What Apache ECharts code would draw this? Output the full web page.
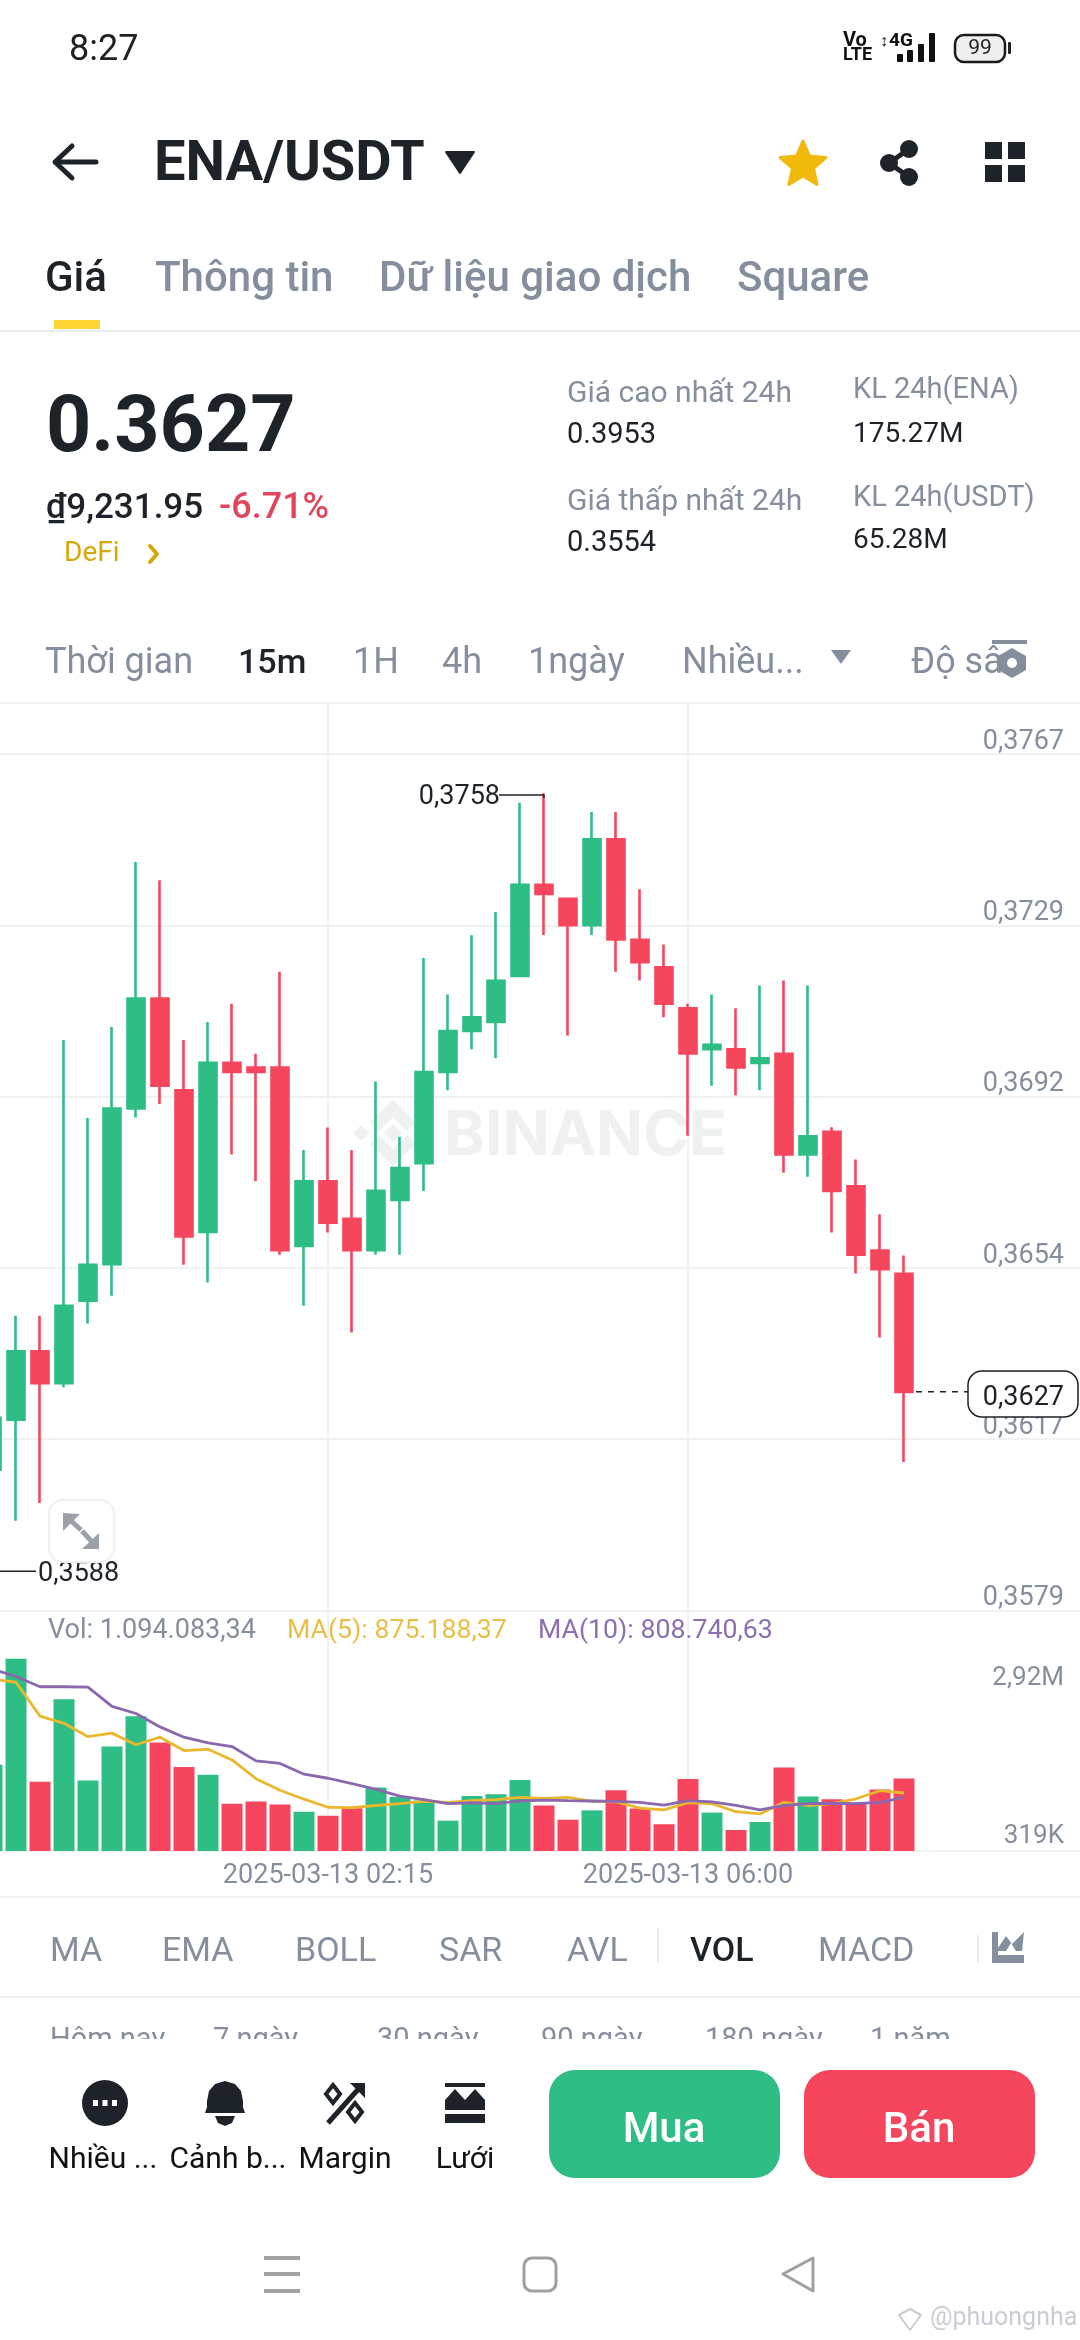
<!DOCTYPE html>
<html>
<head>
<meta charset="utf-8">
<style>html,body{margin:0;padding:0;background:#fff}#c{width:1080px;height:2340px}</style>
<script src="https://cdn.jsdelivr.net/npm/echarts@6/dist/echarts.min.js"></script>
</head>
<body>
<div id="c"></div>
<script>
const times = ['2025-03-12 22:45','2025-03-12 23:00','2025-03-12 23:15','2025-03-12 23:30','2025-03-12 23:45','2025-03-13 00:00','2025-03-13 00:15','2025-03-13 00:30','2025-03-13 00:45','2025-03-13 01:00','2025-03-13 01:15','2025-03-13 01:30','2025-03-13 01:45','2025-03-13 02:00','2025-03-13 02:15','2025-03-13 02:30','2025-03-13 02:45','2025-03-13 03:00','2025-03-13 03:15','2025-03-13 03:30','2025-03-13 03:45','2025-03-13 04:00','2025-03-13 04:15','2025-03-13 04:30','2025-03-13 04:45','2025-03-13 05:00','2025-03-13 05:15','2025-03-13 05:30','2025-03-13 05:45','2025-03-13 06:00','2025-03-13 06:15','2025-03-13 06:30','2025-03-13 06:45','2025-03-13 07:00','2025-03-13 07:15','2025-03-13 07:30','2025-03-13 07:45','2025-03-13 08:00','2025-03-13 08:15','2025-03-13 08:30','2025-03-13 08:45','2025-03-13 09:00','2025-03-13 09:15','2025-03-13 09:30','2025-03-13 09:45','2025-03-13 10:00'];
const opens  = [.36099,.36209,.36359,.36289,.3647,.3655,.36892,.37133,.36932,.36621,.36992,.36982,.36982,.3659,.36732,.3665,.36581,.36691,.36772,.36972,.37062,.37082,.37183,.37383,.37352,.37294,.37483,.37262,.37202,.37112,.37022,.37022,.36992,.37012,.36791,.36841,.36721,.3658,.36529];
const closes = [.36213,.36359,.36289,.36459,.36549,.36892,.37133,.36942,.36611,.36992,.36972,.36972,.36581,.36732,.36641,.36581,.36711,.36761,.36972,.37062,.37092,.37172,.37383,.37363,.37294,.37483,.37263,.37213,.37122,.37013,.37032,.36982,.37002,.36791,.36831,.36711,.36571,.36539,.3627];
const lows   = [.35992,.35987,.36026,.3628,.3642,.36481,.36872,.36902,.36549,.3651,.36791,.36732,.36571,.36459,.3662,.364,.36571,.36571,.36711,.36932,.37022,.37002,.37183,.37273,.37052,.37273,.37192,.37173,.37092,.36832,.36942,.36921,.36932,.36751,.36742,.3662,.3653,.36389,.36116];
const highs  = [.36439,.36437,.36437,.37042,.36871,.37071,.37433,.37393,.37042,.37082,.37122,.37012,.37192,.36801,.3685,.36801,.36951,.3683,.37222,.37142,.37272,.37323,.37563,.37584,.37352,.37543,.37543,.37373,.37252,.37122,.37142,.37112,.37162,.37173,.37162,.36851,.3678,.3666,.36569];
const volumes = [1300000,2900000,1044000,2291000,1065000,1577000,2035000,1637000,1267000,1152000,714000,748000,701000,593000,532000,647000,957000,815000,761000,458000,829000,856000,1071000,687000,472000,613000,916000,640000,404000,1085000,579000,317000,438000,1260000,822000,781000,728000,930000,1094083];
const ma5 = [2594000,2547000,2035000,1927000,1725000,1779000,1604000,1718000,1516000,1536000,1374000,1091000,916000,782000,660000,654000,687000,714000,748000,734000,761000,775000,809000,795000,809000,748000,741000,647000,620000,728000,714000,593000,559000,734000,687000,714000,788000,910000,875188];
const ma10 = [2749000,2634000,2479000,2479000,2473000,2183000,2075000,1873000,1718000,1631000,1577000,1361000,1321000,1159000,1098000,1017000,930000,829000,775000,714000,728000,714000,755000,768000,761000,755000,748000,734000,694000,761000,741000,687000,620000,687000,714000,721000,714000,734000,808740];
const priceTicks = [.3579,.36166,.36542,.36918,.37294,.3767];
const volTicks = [319000,2920000];
const timeLabelIdx = [14,29];
const highValue = 0.3758, lowValue = 0.35876, lastValue = 0.3627;

const UP='#2EBD85', DOWN='#F6465D', GRID='#F0F1F3', GREY='#848E9C', DARK='#1E2329';
const FONT='Roboto';
const chart = echarts.init(document.getElementById('c'), null, {width:1080,height:2340});
const vLines = timeLabelIdx.map(i=>({xAxis:i}));
const vMark = {silent:true,symbol:'none',z:1,label:{show:false},lineStyle:{color:GRID,width:2,type:'solid'},data:vLines,animation:false};

chart.setOption({
  animation:false,
  backgroundColor:'#fff',
  grid:[
    {left:-20,top:703,width:1104,height:907.5,outerBoundsMode:'none'},
    {left:-20,top:1610.5,width:1104,height:240.5,outerBoundsMode:'none'}
  ],
  xAxis:[
    {type:'category',gridIndex:0,data:times,axisLine:{show:false},axisTick:{show:false},axisLabel:{show:false},splitLine:{show:false}},
    {type:'category',gridIndex:1,data:times,axisLine:{show:true,lineStyle:{color:GRID,width:2}},axisTick:{show:false},splitLine:{show:false},
     axisLabel:{show:true,interval:(i)=>timeLabelIdx.includes(i),margin:12,color:GREY,fontFamily:FONT,fontSize:27,hideOverlap:false}}
  ],
  yAxis:[
    {type:'value',gridIndex:0,position:'right',min:0.3579,max:0.37782,scale:true,
     axisLine:{show:false},axisTick:{show:false,customValues:priceTicks},
     splitLine:{show:true,lineStyle:{color:GRID,width:2}},
     axisLabel:{inside:true,margin:20,customValues:priceTicks,verticalAlign:'bottom',padding:[0,0,-1.5,0],showMinLabel:true,showMaxLabel:true,color:GREY,fontFamily:FONT,fontSize:27,
       formatter:v=>v.toFixed(4).replace('.',',')}},
    {type:'value',gridIndex:1,position:'right',min:0,max:3630000,
     axisLine:{show:false},axisTick:{show:false,customValues:volTicks},splitLine:{show:false},
     axisLabel:{inside:true,margin:20,customValues:volTicks,verticalAlign:'middle',color:GREY,fontFamily:FONT,fontSize:26,
       formatter:v=>v>=1e6?'{a|'+(v/1e6).toFixed(2).replace('.',',')+'M}':'{b|'+Math.round(v/1000)+'K}',
       rich:{a:{padding:[42,0,0,0],fontFamily:FONT,fontSize:26,color:GREY},b:{padding:[14,0,0,0],fontFamily:FONT,fontSize:26,color:GREY}}}}
  ],
  series:[
    {type:'candlestick',xAxisIndex:0,yAxisIndex:0,z:2,barWidth:18.4,
     itemStyle:{color:UP,color0:DOWN,borderColor:UP,borderColor0:DOWN,borderWidth:2.6},
     data:opens.map((o,i)=>[o,closes[i],lows[i],highs[i]]),markLine:vMark},
    {type:'bar',xAxisIndex:1,yAxisIndex:1,z:2,barWidth:21,
     data:volumes.map((v,i)=>({value:v,itemStyle:{color:closes[i]>=opens[i]?UP:DOWN}})),markLine:vMark},
    {type:'line',name:'MA(5)',xAxisIndex:1,yAxisIndex:1,z:3,data:ma5,showSymbol:false,lineStyle:{color:'#E9B82E',width:2.8}},
    {type:'line',name:'MA(10)',xAxisIndex:1,yAxisIndex:1,z:4,data:ma10,showSymbol:false,lineStyle:{color:'#8B68AE',width:2.8}}
  ]
});

const t=(x,y,text,size,color,weight,align,font)=>({type:'text',z:100,x,y,style:{text,fontSize:size,fontFamily:font||FONT,fontWeight:weight||400,fill:color||DARK,textAlign:align||'left',textVerticalAlign:'middle'}});
const r=(x,y,w,h,fill,rad,extra)=>({type:'rect',z:100,shape:{x,y,width:w,height:h,r:rad||0},style:Object.assign({fill},extra||{})});
const l=(x1,y1,x2,y2,stroke,w,extra)=>({type:'line',z:100,shape:{x1,y1,x2,y2},style:Object.assign({stroke,lineWidth:w},extra||{})});
const pg=(points,fill,extra)=>({type:'polygon',z:100,shape:{points},style:Object.assign({fill},extra||{})});
const pl=(points,stroke,w)=>({type:'polyline',z:100,shape:{points},style:{stroke,lineWidth:w,fill:'none',lineJoin:'round',lineCap:'round'}});
const c=(cx,cy,rad,fill,extra)=>({type:'circle',z:100,shape:{cx,cy,r:rad},style:Object.assign({fill},extra||{})});
const starPts=(cx,cy,ro,ri)=>{const a=[];for(let i=0;i<10;i++){const q=-Math.PI/2+i*Math.PI/5,rr=i%2?ri:ro;a.push([cx+rr*Math.cos(q),cy+rr*Math.sin(q)]);}return a;};

const hp=chart.convertToPixel({xAxisIndex:0,yAxisIndex:0},[23,highValue]);
const lp=chart.convertToPixel({xAxisIndex:0,yAxisIndex:0},[0,lowValue]);
const cp=chart.convertToPixel({xAxisIndex:0,yAxisIndex:0},[38,lastValue]);

const els=[
  // watermark below the candles
  {type:'text',z:0,x:444,y:1136,style:{text:'BINANCE',fontSize:62,fontFamily:'Inter',fontWeight:700,fill:'#EFF0F1',textVerticalAlign:'middle'}},
  {type:'polygon',z:0,shape:{points:[[393,1100],[416,1122],[407,1131],[393,1117],[379,1131],[370,1122]]},style:{fill:'#EFF0F1'}},
  {type:'polygon',z:0,shape:{points:[[393,1166],[416,1144],[407,1135],[393,1149],[379,1135],[370,1144]]},style:{fill:'#EFF0F1'}},
  {type:'polygon',z:0,shape:{points:[[361,1125],[370,1133],[361,1141],[353,1133]]},style:{fill:'#EFF0F1'}},
  {type:'polygon',z:0,shape:{points:[[393,1124],[402,1133],[393,1142],[384,1133]]},style:{fill:'#EFF0F1'}},

  // status bar
  t(69,51,'8:27',36,'#222'),
  t(843,41,'Vo',20,'#111',700),t(843,55,'LTE',18,'#111',700),
  t(889,41,'4G',19,'#111',700),t(880,42,'↕',16,'#111',700),
  r(897,54,6,8,'#111',1),r(907,50,6,12,'#111',1),r(918,44,6,18,'#111',1),r(929,33,6,29,'#111',1),
  {type:'rect',z:100,shape:{x:955,y:35,width:50,height:27,r:9},style:{fill:'#EFEFEF',stroke:'#1a1a1a',lineWidth:2.5}},
  t(980,49,'99',21,'#222',400,'center'),
  r(1008,42,3,12,'#222',1),

  // header
  pl([[56,162],[96,162]],DARK,5),pl([[72,146],[55,162],[72,178]],DARK,5),
  t(154,166,'ENA/USDT',56,DARK,700),
  pg([[446,152],[474,152],[460,173]],DARK,{stroke:DARK,lineWidth:2,lineJoin:'round'}),
  pg(starPts(803,165,24,11),'#F0B90B',{stroke:'#F0B90B',lineWidth:3,lineJoin:'round'}),
  l(909,149,889,163,DARK,5),l(889,163,909,177,DARK,5),c(909,149,9,DARK),c(889,163,9,DARK),c(909,177,9,DARK),
  r(985,142,17,17,DARK),r(1008,142,17,17,DARK),r(985,165,17,17,DARK),r(1008,165,17,17,DARK),

  // tabs
  t(45,280,'Giá',42,DARK,500),t(155,280,'Thông tin',42,GREY,500),t(379,280,'Dữ liệu giao dịch',42,GREY,500),t(737,280,'Square',42,GREY,500),
  r(54,320,46,9,'#FCD535'),
  r(0,330,1080,2,'#EAECEF'),

  // price block
  t(46,431,'0.3627',79,DARK,700),
  t(46,509,'₫9,231.95',35,DARK,500),
  t(219,509,'-6.71%',36,'#E0455C',500),
  t(64,554,'DeFi',28,'#D8A70B'),
  pl([[150,546],[157,554],[150,562]],'#D8A70B',4),
  t(567,394,'Giá cao nhất 24h',30,GREY),t(567,436,'0.3953',29,DARK),
  t(567,502,'Giá thấp nhất 24h',30,GREY),t(567,544,'0.3554',29,DARK),
  t(853,391,'KL 24h(ENA)',29,GREY),t(853,435,'175.27M',28,DARK),
  t(853,499,'KL 24h(USDT)',29,GREY),t(853,541,'65.28M',28,DARK),

  // timeframes
  t(45,664,'Thời gian',36,GREY),t(238,664,'15m',34,DARK,500),t(353,664,'1H',36,GREY),t(442,664,'4h',36,GREY),t(528,664,'1ngày',36,GREY),t(682,664,'Nhiều...',36,GREY),
  pg([[831,650],[851,650],[841,664]],GREY),
  t(911,664,'Độ sâu',36,GREY),
  r(992,640,35,4,GREY),
  pg([[1012,648],[1026,656],[1026,670],[1012,678],[998,670],[998,656]],GREY),c(1012,663,5,'#fff'),
  r(0,702,1080,2,GRID),

  // volume legend
  t(48,1631,'Vol: 1.094.083,34',27,GREY),t(287,1631,'MA(5): 875.188,37',26.7,'#E8BE45'),t(538,1631,'MA(10): 808.740,63',26.7,'#8C6FB0'),

  // annotations
  l(hp[0]-45,hp[1],hp[0],hp[1],DARK,1.5),l(hp[0],hp[1],hp[0],hp[1]+3,DARK,1.5),
  t(hp[0]-44,hp[1]+2,'0,3758',27,DARK,400,'right'),
  l(0,lp[1],36,lp[1],DARK,1.5),
  t(38,lp[1]+3,'0,3588',27,DARK),
  l(cp[0]+12,cp[1],968,cp[1],DARK,1.5,{lineDash:[6,6]}),
  {type:'rect',z:100,shape:{x:968,y:1371,width:110,height:46,r:14},style:{fill:'#fff',stroke:DARK,lineWidth:1.5}},
  t(1064,1398,'0,3627',27,DARK,400,'right'),

  // expand button
  {type:'rect',z:100,shape:{x:49,y:1500,width:65,height:62,r:14},style:{fill:'#fff',stroke:'#EEEFF1',lineWidth:2}},
  pg([[63,1513],[80,1514],[63,1531]],'#9BA1AA'),l(68,1518,81,1530,'#9BA1AA',5),
  pg([[99,1533],[99,1549],[82,1549]],'#9BA1AA'),l(82,1531,94,1544,'#9BA1AA',5),

  // bottom rule + indicators
  r(0,1896,1080,2,GRID),
  t(50,1952,'MA',34,GREY),t(162,1952,'EMA',34,GREY),t(295,1952,'BOLL',34,GREY),t(439,1952,'SAR',34,GREY),t(567,1952,'AVL',34,GREY),
  r(657,1928,2,35,'#EAECEF'),
  t(690,1952,'VOL',34,DARK,500),t(818,1952,'MACD',34,GREY),
  r(977,1935,2,28,'#EAECEF'),
  r(992,1932,6,31,GREY),r(992,1955,32,8,GREY),
  pg([[998,1948],[1006,1936],[1012,1944],[1024,1932],[1022,1951],[998,1951]],GREY),
  pg([[1006,1951],[1011,1943],[1016,1951]],'#fff'),
  r(0,1996,1080,2,'#EEEFF1'),

  // clipped range row
  t(50,2041,'Hôm nay',29,GREY),t(213,2041,'7 ngày',29,GREY),t(377,2041,'30 ngày',29,GREY),t(541,2041,'90 ngày',29,GREY),t(705,2041,'180 ngày',29,GREY),t(870,2041,'1 năm',29,GREY),
  r(0,2039,1080,301,'#fff'),

  // bottom actions
  c(105,2103,23,DARK),r(93,2100,5,6,'#fff'),r(102.5,2100,5,6,'#fff'),r(112,2100,5,6,'#fff'),
  pg([[225,2081],[235,2084],[241,2091],[243,2101],[243,2107],[245,2113],[205,2113],[207,2107],[207,2101],[209,2091],[215,2084]],DARK),
  pg([[215,2116],[235,2116],[232,2123],[225,2126],[218,2123]],DARK),
  l(328,2123,362,2085,DARK,5),pg([[350,2083],[365,2083],[365,2098]],DARK),
  pg([[333,2085],[340,2094],[333,2103],[326,2094]],'#fff',{stroke:DARK,lineWidth:4}),
  pg([[355,2103],[362,2112],[355,2121],[348,2112]],'#fff',{stroke:DARK,lineWidth:4}),
  r(445,2083,40,27,DARK),pg([[445,2100],[455,2089],[465,2100],[475,2089],[485,2100],[485,2087],[445,2087]],'#fff'),
  r(445,2114,40,9,DARK),
  t(103,2160,'Nhiều ...',30,'#111',400,'center'),t(228,2160,'Cảnh b...',30,'#111',400,'center'),t(345,2160,'Margin',30,'#111',400,'center'),t(465,2160,'Lưới',30,'#111',400,'center'),
  r(549,2070,231,108,UP,26),t(664,2131,'Mua',42,'#fff',500,'center'),
  r(804,2070,231,108,DOWN,26),t(919,2131,'Bán',42,'#fff',500,'center'),

  // navigation bar
  r(264,2256,36,4,'#A3A3A3'),r(264,2272,36,4,'#A3A3A3'),r(264,2289,36,4,'#A3A3A3'),
  {type:'rect',z:100,shape:{x:524,y:2258,width:32,height:33,r:8},style:{fill:'none',stroke:'#A0A0A0',lineWidth:3}},
  pg([[813,2258],[813,2291],[783,2274]],'none',{stroke:'#A0A0A0',lineWidth:3,lineJoin:'round'}),

  // watermark
  pl([[899,2315],[910,2330],[921,2315],[910,2309],[899,2315]],'#C9CDD2',2),
  t(930,2319,'@phuongnha',25,'#C9CDD2')
];
chart.setOption({graphic:{elements:els}});
</script>
</body>
</html>
